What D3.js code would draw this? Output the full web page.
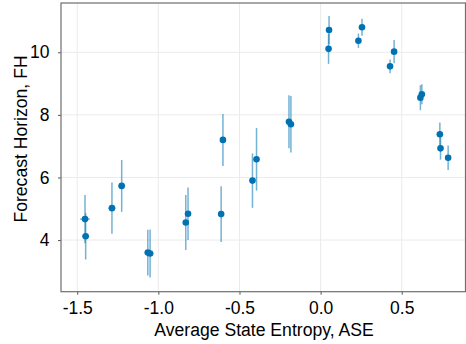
<html><head>
<meta charset="utf-8">
<script src="https://d3js.org/d3.v7.min.js"></script>
<style>
  body { margin: 0; background: #fff; }
  text { font-family: "Liberation Sans", Arial, sans-serif; }
</style>
</head>
<body>
<svg id="chart" width="466" height="344"></svg>
<script>

// values
let ase    = [-1.452, -1.448, -1.286, -1.226, -1.065, -1.051, -0.831, -0.817, -0.602, -0.613, -0.420, -0.395, -0.195, -0.183, 0.052, 0.049, 0.233, 0.255, 0.428, 0.453, 0.615, 0.624, 0.735, 0.739, 0.786];
let aseErr = [0.030, 0.022, 0.022, 0.022, 0.020, 0.020, 0.018, 0.018, 0.012, 0.012, 0.012, 0.012, 0.010, 0.010, 0.010, 0.010, 0.010, 0.010, 0.010, 0.010, 0.010, 0.010, 0.010, 0.010, 0.010];
let fh     = [4.67, 4.12, 5.02, 5.73, 3.60, 3.57, 4.56, 4.84, 7.20, 4.83, 5.90, 6.58, 7.78, 7.70, 10.71, 10.11, 10.37, 10.80, 9.55, 10.02, 8.55, 8.66, 7.38, 6.93, 6.63];
let fhErr  = [0.77, 0.74, 0.82, 0.83, 0.73, 0.77, 0.88, 0.84, 0.83, 0.89, 0.87, 1.00, 0.85, 0.90, 0.45, 0.48, 0.23, 0.27, 0.22, 0.37, 0.40, 0.32, 0.38, 0.36, 0.39];

let xTicks = [-1.5, -1.0, -0.5, 0.0, 0.5];
let xTickLabels = ["-1.5", "-1.0", "-0.5", "0.0", "0.5"];
let yTicks = [4, 6, 8, 10];

let svg = d3.select("svg#chart");
let margin = {"top": 3, "right": 0.5, "bottom": 52.3, "left": 61};
let width = 466, height = 344;
let chartWidth = width - margin.left - margin.right;
let chartHeight = height - margin.top - margin.bottom;

let xScale = d3.scaleLinear().domain([-1.60, 0.893]).range([0, chartWidth]);
let yScale = d3.scaleLinear().domain([2.35, 11.575]).range([chartHeight, 0]);

let chart = svg.append("g")
    .attr("transform", "translate(" + margin.left + "," + margin.top + ")");

// gridlines
chart.append("g").selectAll("line").data(xTicks).enter().append("line")
    .attr("x1", d => xScale(d)).attr("x2", d => xScale(d))
    .attr("y1", 0).attr("y2", chartHeight)
    .attr("stroke", "#ebebeb").attr("stroke-width", 1);
chart.append("g").selectAll("line").data(yTicks).enter().append("line")
    .attr("x1", 0).attr("x2", chartWidth)
    .attr("y1", d => yScale(d)).attr("y2", d => yScale(d))
    .attr("stroke", "#ebebeb").attr("stroke-width", 1);

// axes
let xAxis = chart.append("g")
    .attr("transform", "translate(0," + chartHeight + ")")
    .call(d3.axisBottom(xScale).tickValues(xTicks)
        .tickFormat((d, i) => xTickLabels[i]).tickSize(3).tickPadding(6.5));
let yAxis = chart.append("g")
    .call(d3.axisLeft(yScale).tickValues(yTicks).tickSize(3).tickPadding(8.5));

[xAxis, yAxis].forEach(a => {
    a.select(".domain").remove();
    a.selectAll(".tick line").attr("stroke", "#555");
    a.selectAll(".tick text").attr("fill", "#000").style("font-size", "17.5px")
        .style("font-family", "'Liberation Sans', Arial, sans-serif");
});

// frame
chart.append("rect")
    .attr("x", 0).attr("y", 0)
    .attr("width", chartWidth).attr("height", chartHeight)
    .attr("fill", "none").attr("stroke", "#6e6e6e").attr("stroke-width", 1.2);

// error bars
let pts = chart.append("g");
ase.forEach((d, i) => {
    let cx = xScale(d), cy = yScale(fh[i]);
    pts.append("line")
        .attr("x1", cx).attr("x2", cx)
        .attr("y1", yScale(fh[i] - fhErr[i])).attr("y2", yScale(fh[i] + fhErr[i]))
        .attr("stroke", "#0072b2").attr("stroke-opacity", 0.55).attr("stroke-width", 1.5);
    pts.append("line")
        .attr("x1", xScale(d - aseErr[i])).attr("x2", xScale(d + aseErr[i]))
        .attr("y1", cy).attr("y2", cy)
        .attr("stroke", "#0072b2").attr("stroke-opacity", 0.55).attr("stroke-width", 1.5);
});
ase.forEach((d, i) => {
    pts.append("circle")
        .attr("cx", xScale(d))
        .attr("cy", yScale(fh[i]))
        .attr("r", 3.3)
        .attr("fill", "#0072b2");
});

// axis labels
svg.append("text")
    .attr("x", 264)
    .attr("y", 336)
    .attr("text-anchor", "middle")
    .style("font-size", "17.6px")
    .text("Average State Entropy, ASE");

svg.append("text")
    .attr("transform", "translate(27,139) rotate(-90)")
    .attr("text-anchor", "middle")
    .style("font-size", "17.6px")
    .text("Forecast Horizon, FH");

</script>
</body>
</html>
